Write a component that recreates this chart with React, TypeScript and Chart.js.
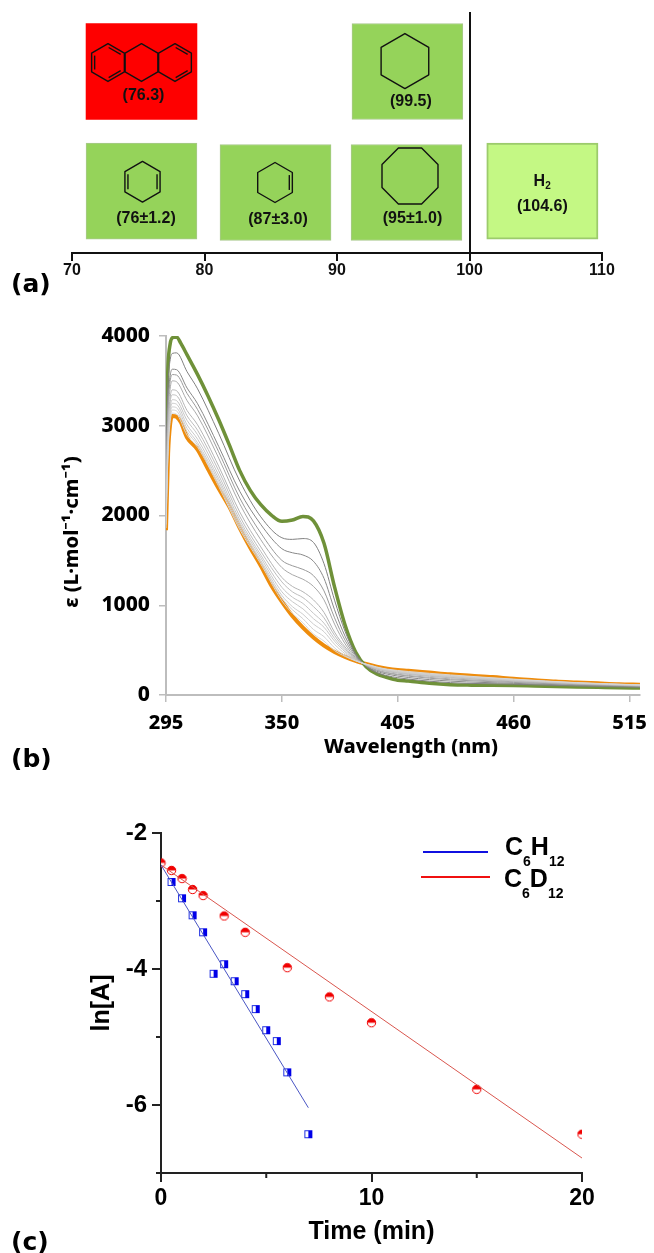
import React, { useEffect, useRef } from "react";
import { Chart, registerables } from "chart.js";

Chart.register(...registerables);

// ---------- Panel (a): bond dissociation energies ----------
const bdeTicks = [70, 80, 90, 100, 110];
const bdeBoxStart = [71.06, 91.13, 71.06, 81.17, 91.06, 101.3];
const bdeBoxEnd = [79.43, 99.5, 79.43, 89.55, 99.43, 109.7];
const bdeRow = [75.3, 75.3, 25.7, 25.1, 25.1, 25.7];
const bdeColors = ["#fe0000", "#95d35a", "#95d35a", "#95d35a", "#95d35a", "#c4f884"];
const bdeLabels = ["(76.3)", "(99.5)", "(76±1.2)", "(87±3.0)", "(95±1.0)", "(104.6)"];
const bdeMolecules = ["anthracene", "cyclohexane", "diene", "cyclohexene", "cyclooctane", "h2"];

// ---------- Panel (b): spectra ----------
const wlTicks = [295, 350, 405, 460, 515];
const wlValueTicks = [0, 1000, 2000, 3000, 4000];
const wlGreen = [295, 296, 297, 298, 300, 302, 305, 310, 315, 320, 325, 330, 335, 340, 345, 350, 355, 360, 365, 370, 375, 380, 385, 390, 395, 400, 405, 410, 420, 430, 440, 450, 460, 470, 480, 490, 500, 510, 520];
const greenValues = [2950, 3690, 3915, 3980, 3990, 3920, 3790, 3570, 3330, 3070, 2790, 2500, 2280, 2120, 2005, 1935, 1950, 1990, 1940, 1690, 1205, 780, 480, 315, 235, 195, 165, 155, 130, 115, 110, 108, 105, 100, 95, 90, 85, 80, 78];
const orangeValues = [1835, 2690, 3025, 3110, 3100, 3040, 2870, 2735, 2515, 2300, 2100, 1860, 1640, 1440, 1220, 1040, 880, 750, 640, 550, 480, 425, 380, 345, 315, 293, 278, 270, 250, 230, 215, 200, 180, 165, 150, 140, 130, 120, 115];

const wlGray = [295, 296, 297, 298, 300, 305, 310, 320, 330, 340, 350, 355, 360, 365, 370, 375, 380, 385, 390, 395, 400, 410, 430, 460, 490, 520];
const gray1 = [2727, 3490, 3737, 3806, 3812, 3602, 3411, 2916, 2384, 1985, 1752, 1734, 1743, 1700, 1463, 1057, 708, 460, 321, 251, 215, 178, 138, 120, 100, 87];
const gray2 = [2500, 3290, 3560, 3630, 3625, 3420, 3245, 2770, 2270, 1900, 1630, 1585, 1560, 1490, 1300, 950, 655, 445, 325, 265, 232, 195, 155, 130, 108, 92];
const gray3 = [2430, 3220, 3500, 3570, 3565, 3360, 3180, 2710, 2195, 1805, 1500, 1440, 1400, 1330, 1160, 860, 610, 430, 330, 275, 245, 210, 170, 140, 115, 97];
const gray4 = [2390, 3140, 3420, 3500, 3490, 3280, 3110, 2640, 2130, 1730, 1420, 1340, 1290, 1210, 1060, 790, 570, 415, 330, 280, 250, 218, 180, 148, 120, 100];
const gray5 = [2200, 3010, 3320, 3400, 3390, 3170, 3010, 2550, 2040, 1650, 1310, 1210, 1150, 1060, 920, 700, 535, 405, 335, 290, 262, 230, 192, 155, 125, 103];
const gray6 = [2130, 2960, 3270, 3345, 3335, 3110, 2950, 2500, 1990, 1600, 1260, 1150, 1085, 985, 860, 665, 515, 398, 336, 295, 268, 236, 197, 158, 127, 105];
const gray7 = [2060, 2890, 3200, 3290, 3280, 3060, 2900, 2450, 1950, 1560, 1200, 1090, 1020, 910, 800, 630, 495, 392, 338, 298, 272, 240, 203, 163, 130, 107];
const gray8 = [2010, 2840, 3160, 3250, 3240, 3010, 2850, 2410, 1920, 1530, 1150, 1040, 960, 850, 755, 600, 480, 388, 340, 302, 276, 246, 208, 166, 132, 109];
const gray9 = [1950, 2780, 3120, 3210, 3200, 2970, 2810, 2380, 1895, 1500, 1110, 985, 900, 790, 705, 565, 460, 385, 342, 306, 280, 250, 213, 170, 134, 110];
const gray10 = [1900, 2740, 3080, 3175, 3165, 2935, 2785, 2350, 1870, 1480, 1080, 950, 850, 730, 650, 525, 440, 382, 343, 310, 284, 254, 218, 174, 136, 112];
const gray11 = [1860, 2710, 3050, 3140, 3130, 2895, 2760, 2325, 1845, 1460, 1050, 910, 805, 680, 600, 495, 430, 380, 344, 312, 288, 262, 224, 177, 138, 113];
const grayCurves = [gray11, gray10, gray9, gray8, gray7, gray6, gray5, gray4, gray3, gray2, gray1];
const grayColors = ["#d6d6d6", "#d0d0d0", "#cccccc", "#c8c8c8", "#c4c4c4", "#bcbcbc", "#b4b4b4", "#a8a8a8", "#999999", "#888888", "#808080"];

// ---------- Panel (c): kinetics ----------
const timeTicks = [0, 5, 10, 15, 20];
const lnTicks = [-2, -3, -4, -5, -6, -7];
const hTimes = [0.5, 1, 1.5, 2, 2.5, 3, 3.5, 4, 4.5, 5, 5.5, 6, 7];
const hValues = [-2.72, -2.96, -3.21, -3.46, -4.07, -3.93, -4.18, -4.37, -4.59, -4.9, -5.06, -5.52, -6.43];
const dTimes = [0, 0.5, 1, 1.5, 2, 3, 4, 6, 8, 10, 15, 20];
const dValues = [-2.44, -2.55, -2.67, -2.83, -2.92, -3.22, -3.46, -3.98, -4.41, -4.79, -5.77, -6.43];
const hFitTimes = [0, 7];
const hFitValues = [-2.47, -6.04];
const dFitTimes = [0, 20];
const dFitValues = [-2.47, -6.78];

const SANS = '"Liberation Sans", Arial, sans-serif';
const NOTO = '"Noto Sans", sans-serif';
const DEJAVU = '"DejaVu Sans", sans-serif';

function panelLabel(ctx: CanvasRenderingContext2D, text: string, x: number, y: number) {
  ctx.save();
  ctx.font = `bold 25px ${DEJAVU}`;
  ctx.fillStyle = "#000";
  ctx.textAlign = "left";
  ctx.textBaseline = "middle";
  ctx.fillText(text, x, y);
  ctx.restore();
}

function ringVerts(cx: number, cy: number, r: number, n = 6, start = -Math.PI / 2) {
  const v: [number, number][] = [];
  for (let i = 0; i < n; i++) {
    const a = start + (i * 2 * Math.PI) / n;
    v.push([cx + r * Math.cos(a), cy + r * Math.sin(a)]);
  }
  return v;
}

function drawRing(
  ctx: CanvasRenderingContext2D,
  cx: number,
  cy: number,
  r: number,
  doubles: number[] = [],
  n = 6,
  start = -Math.PI / 2,
) {
  const v = ringVerts(cx, cy, r, n, start);
  ctx.beginPath();
  v.forEach(([x, y], i) => (i ? ctx.lineTo(x, y) : ctx.moveTo(x, y)));
  ctx.closePath();
  ctx.stroke();
  for (const e of doubles) {
    const [ax, ay] = v[e];
    const [bx, by] = v[(e + 1) % n];
    const k = (r - 3.5) / r;
    const s = 0.05;
    const a2 = [cx + (ax - cx) * k, cy + (ay - cy) * k];
    const b2 = [cx + (bx - cx) * k, cy + (by - cy) * k];
    ctx.beginPath();
    ctx.moveTo(a2[0] + (b2[0] - a2[0]) * s, a2[1] + (b2[1] - a2[1]) * s);
    ctx.lineTo(b2[0] - (b2[0] - a2[0]) * s, b2[1] - (b2[1] - a2[1]) * s);
    ctx.stroke();
  }
}

const moleculePlugin = {
  id: "molecules",
  afterDatasetsDraw(chart: any) {
    const { ctx } = chart;
    const bars = chart.getDatasetMeta(0).data;
    bars.forEach((bar: any, i: number) => {
      const cx = (bar.base + bar.x) / 2;
      const cy = bar.y;
      ctx.save();
      ctx.strokeStyle = "#111";
      ctx.lineWidth = 1.4;
      ctx.lineJoin = "round";
      const kind = bdeMolecules[i];
      let labelDx = 2;
      let labelDy = 24.5;
      if (kind === "anthracene") {
        drawRing(ctx, cx - 33.5, cy - 9, 18.9, [0, 2, 4]);
        drawRing(ctx, cx, cy - 9, 18.9);
        drawRing(ctx, cx + 33.5, cy - 9, 18.9, [0, 2]);
      } else if (kind === "cyclohexane") {
        drawRing(ctx, cx - 2.5, cy - 10.5, 27.5);
        labelDx = 3.5;
        labelDy = 30.5;
      } else if (kind === "diene") {
        drawRing(ctx, cx + 1, cy - 9.3, 20.3, [1, 4]);
        labelDx = 4.5;
        labelDy = 28;
      } else if (kind === "cyclohexene") {
        drawRing(ctx, cx - 0.5, cy - 10, 20, [1]);
        labelDx = 2.5;
        labelDy = 27.5;
      } else if (kind === "cyclooctane") {
        drawRing(ctx, cx + 3.5, cy - 16.5, 30.3, [], 8, -Math.PI * 0.375);
        labelDx = 6;
        labelDy = 26;
      }
      ctx.fillStyle = "#111";
      ctx.textAlign = "center";
      ctx.textBaseline = "middle";
      if (kind === "h2") {
        ctx.font = `bold 16px ${SANS}`;
        const w = ctx.measureText("H").width;
        ctx.fillText("H", cx - 3, cy - 9);
        ctx.font = `bold 10px ${SANS}`;
        ctx.fillText("2", cx - 3 + w / 2 + 3, cy - 5);
        ctx.font = `bold 16px ${SANS}`;
        ctx.fillText(bdeLabels[i], cx, cy + 16);
      } else {
        ctx.font = `bold 16px ${SANS}`;
        ctx.fillText(bdeLabels[i], cx + labelDx, cy + labelDy);
      }
      ctx.restore();
    });
    panelLabel(ctx, "(a)", 11, 285);
  },
};

const spectraPlugin = {
  id: "spectraText",
  afterDraw(chart: any) {
    const { ctx } = chart;
    panelLabel(ctx, "(b)", 11, 440);
    ctx.save();
    ctx.fillStyle = "#000";
    ctx.textAlign = "center";
    ctx.textBaseline = "middle";
    ctx.font = `800 20px ${NOTO}`;
    ctx.fillText("Wavelength (nm)", 411, 427);
    ctx.translate(72, 212);
    ctx.rotate(-Math.PI / 2);
    ctx.font = `800 20px ${NOTO}`;
    ctx.fillText("ε (L·mol⁻¹·cm⁻¹)", 0, 0);
    ctx.restore();
  },
};

function drawLegendEntry(
  ctx: CanvasRenderingContext2D,
  x0: number,
  x1: number,
  y: number,
  textX: number,
  textDy: number,
  parts: [string, string, string, string],
  color: string,
) {
  ctx.strokeStyle = color;
  ctx.lineWidth = 2;
  ctx.beginPath();
  ctx.moveTo(x0, y);
  ctx.lineTo(x1, y);
  ctx.stroke();
  let x = textX;
  parts.forEach((p, i) => {
    const sub = i % 2 === 1;
    ctx.font = sub ? `bold 14px ${SANS}` : `bold 25px ${SANS}`;
    ctx.fillText(p, x, sub ? y + textDy + 14 : y + textDy);
    x += ctx.measureText(p).width;
  });
}

const kineticsPlugin = {
  id: "kineticsExtras",
  afterDraw(chart: any) {
    const { ctx, scales } = chart;
    ctx.save();
    ctx.strokeStyle = "#222";
    ctx.lineWidth = 2;
    for (const t of timeTicks) {
      if (t % 10 !== 0) {
        const px = scales.x.getPixelForValue(t);
        ctx.beginPath();
        ctx.moveTo(px, scales.x.top);
        ctx.lineTo(px, scales.x.top + 5);
        ctx.stroke();
      }
    }
    for (const t of lnTicks) {
      if (t % 2 !== 0) {
        const py = scales.y.getPixelForValue(t);
        ctx.beginPath();
        ctx.moveTo(scales.y.right, py);
        ctx.lineTo(scales.y.right - 5, py);
        ctx.stroke();
      }
    }
    ctx.fillStyle = "#000";
    ctx.textAlign = "left";
    ctx.textBaseline = "middle";
    drawLegendEntry(ctx, 423, 488, 52, 505, -4, ["C", "6", "H", "12"], "#1010e0");
    drawLegendEntry(ctx, 421, 490, 77, 504, 3, ["C", "6", "D", "12"], "#f01010");
    ctx.restore();
    panelLabel(ctx, "(c)", 11, 443);
  },
};

function halfCircle() {
  const c = document.createElement("canvas");
  c.width = 11;
  c.height = 11;
  const g = c.getContext("2d")!;
  g.beginPath();
  g.arc(5.5, 5.5, 4.2, 0, Math.PI * 2);
  g.fillStyle = "#fff";
  g.fill();
  g.strokeStyle = "#f00000";
  g.lineWidth = 1;
  g.stroke();
  g.beginPath();
  g.arc(5.5, 5.5, 4.2, Math.PI, 0);
  g.closePath();
  g.fillStyle = "#f00000";
  g.fill();
  return c;
}

function halfSquare() {
  const c = document.createElement("canvas");
  c.width = 10;
  c.height = 10;
  const g = c.getContext("2d")!;
  g.fillStyle = "#fff";
  g.fillRect(1, 1, 8, 8);
  g.strokeStyle = "#2030e0";
  g.lineWidth = 1;
  g.strokeRect(1.5, 1.5, 7, 7);
  g.fillStyle = "#0000e8";
  g.fillRect(5, 1, 4, 8);
  return c;
}

const toPoints = (xs: number[], ys: number[]) => xs.map((x, i) => ({ x, y: ys[i] }));

export default function App() {
  const aRef = useRef<HTMLCanvasElement>(null);
  const bRef = useRef<HTMLCanvasElement>(null);
  const cRef = useRef<HTMLCanvasElement>(null);

  useEffect(() => {
    const charts: Chart[] = [];

    charts.push(
      new Chart(aRef.current!, {
        type: "bar",
        data: {
          datasets: [
            {
              data: bdeBoxStart.map((s, i) => ({ x: [s, bdeBoxEnd[i]], y: bdeRow[i] })) as any,
              backgroundColor: bdeColors,
              borderColor: ["#f00000", "#a9c98c", "#a9c98c", "#a9c98c", "#a9c98c", "#9ccb6c"],
              borderWidth: [0, 1, 1, 1, 1, 2] as any,
              borderSkipped: false,
              barThickness: 96,
            },
          ],
        },
        options: {
          indexAxis: "y",
          animation: false,
          responsive: false,
          layout: { padding: { left: 72, right: 52, top: 12, bottom: 0 } },
          plugins: { legend: { display: false }, tooltip: { enabled: false } },
          scales: {
            x: {
              type: "linear",
              min: 70,
              max: 110,
              afterBuildTicks: (s: any) => {
                s.ticks = bdeTicks.map((value) => ({ value }));
              },
              afterFit: (s: any) => {
                s.height = 47;
                s.paddingLeft = 0;
                s.paddingRight = 0;
              },
              border: { color: "#111", width: 2 },
              grid: {
                color: (c: any) => (c.tick && c.tick.value === 100 ? "#111" : "transparent"),
                lineWidth: 2,
                tickColor: "#111",
                tickLength: 8,
              },
              ticks: {
                color: "#111",
                padding: 0,
                maxRotation: 0,
                font: { family: SANS, size: 16, weight: "bold" },
              },
            },
            y: { type: "linear", display: false, min: 0, max: 100, offset: false },
          },
        },
        plugins: [moleculePlugin],
      } as any),
    );

    const grayDatasets = grayCurves.map((vals, i) => ({
      data: toPoints(wlGray, vals),
      borderColor: grayColors[i],
      borderWidth: 1,
      pointRadius: 0,
      cubicInterpolationMode: "monotone",
    }));

    charts.push(
      new Chart(bRef.current!, {
        type: "line",
        data: {
          datasets: [
            ...grayDatasets,
            {
              data: toPoints(wlGreen, greenValues),
              borderColor: "#6f9139",
              borderWidth: 3.5,
              pointRadius: 0,
              cubicInterpolationMode: "monotone",
            },
            {
              data: toPoints(wlGreen, orangeValues),
              borderColor: "#ee8c0c",
              borderWidth: 4,
              pointRadius: 0,
              cubicInterpolationMode: "monotone",
            },
          ],
        },
        options: {
          animation: false,
          responsive: false,
          layout: { padding: { left: 0, right: 14, top: 16, bottom: 0 } },
          plugins: { legend: { display: false }, tooltip: { enabled: false } },
          scales: {
            x: {
              type: "linear",
              min: 295,
              max: 520,
              afterBuildTicks: (s: any) => {
                s.ticks = wlTicks.map((value) => ({ value }));
              },
              afterFit: (s: any) => {
                s.height = 75;
                s.paddingLeft = 0;
                s.paddingRight = 0;
              },
              border: { color: "#bdbdbd", width: 2 },
              grid: { display: true, drawOnChartArea: false, tickColor: "#bdbdbd", tickLength: 7, lineWidth: 1.5 },
              ticks: {
                color: "#000",
                padding: 9,
                maxRotation: 0,
                font: { family: NOTO, size: 20, weight: "800" },
              },
            },
            y: {
              type: "linear",
              min: 0,
              max: 4000,
              afterBuildTicks: (s: any) => {
                s.ticks = wlValueTicks.map((value) => ({ value }));
              },
              afterFit: (s: any) => {
                s.width = 166;
                s.paddingTop = 0;
                s.paddingBottom = 0;
              },
              border: { color: "#bdbdbd", width: 2 },
              grid: { display: true, drawOnChartArea: false, tickColor: "#bdbdbd", tickLength: 7, lineWidth: 1.5 },
              ticks: {
                color: "#000",
                padding: 9,
                font: { family: NOTO, size: 21, weight: "800" },
                callback: (v: number) => String(v),
              },
            },
          },
        },
        plugins: [spectraPlugin],
      } as any),
    );

    charts.push(
      new Chart(cRef.current!, {
        type: "scatter",
        data: {
          datasets: [
            {
              label: "C6H12 fit",
              data: toPoints(hFitTimes, hFitValues),
              showLine: true,
              borderColor: "#4a56c4",
              borderWidth: 1,
              pointRadius: 0,
            },
            {
              label: "C6D12 fit",
              data: toPoints(dFitTimes, dFitValues),
              showLine: true,
              borderColor: "#d9564e",
              borderWidth: 1,
              pointRadius: 0,
            },
            {
              label: "C6H12",
              data: toPoints(hTimes, hValues),
              pointStyle: halfSquare(),
              pointRadius: 5,
              clip: 0,
            },
            {
              label: "C6D12",
              data: toPoints(dTimes, dValues),
              pointStyle: halfCircle(),
              pointRadius: 5,
              clip: 0,
            },
          ],
        },
        options: {
          animation: false,
          responsive: false,
          layout: { padding: { left: 0, right: 72, top: 33, bottom: 0 } },
          plugins: { legend: { display: false }, tooltip: { enabled: false } },
          scales: {
            x: {
              type: "linear",
              min: 0,
              max: 20,
              afterBuildTicks: (s: any) => {
                s.ticks = timeTicks.map((value) => ({ value }));
              },
              afterFit: (s: any) => {
                s.height = 80;
                s.paddingLeft = 0;
                s.paddingRight = 0;
              },
              border: { color: "#222", width: 2 },
              grid: {
                drawOnChartArea: false,
                lineWidth: 2,
                tickLength: 9,
                tickColor: (c: any) => (c.tick && c.tick.value % 10 === 0 ? "#222" : "transparent"),
              },
              ticks: {
                color: "#000",
                padding: 3,
                maxRotation: 0,
                font: { family: SANS, size: 23, weight: "bold" },
                callback: (v: number) => (v % 10 === 0 ? String(v) : ""),
              },
              title: {
                display: true,
                text: "Time (min)",
                color: "#000",
                padding: { top: 0, bottom: 6 },
                font: { family: SANS, size: 25, weight: "bold" },
              },
            },
            y: {
              type: "linear",
              min: -7,
              max: -2,
              afterBuildTicks: (s: any) => {
                s.ticks = lnTicks.map((value) => ({ value }));
              },
              afterFit: (s: any) => {
                s.width = 161;
                s.paddingTop = 0;
                s.paddingBottom = 0;
              },
              border: { color: "#222", width: 2 },
              grid: {
                drawOnChartArea: false,
                lineWidth: 2,
                tickLength: 9,
                tickColor: (c: any) => (c.tick && c.tick.value % 2 === 0 ? "#222" : "transparent"),
              },
              ticks: {
                color: "#000",
                padding: 5,
                font: { family: SANS, size: 24, weight: "bold" },
                callback: (v: number) => (v % 2 === 0 ? String(v) : ""),
              },
              title: {
                display: true,
                text: "ln[A]",
                color: "#000",
                padding: { top: 87, bottom: 0 },
                font: { family: SANS, size: 25, weight: "bold" },
              },
            },
          },
        },
        plugins: [kineticsPlugin],
      } as any),
    );

    return () => charts.forEach((c) => c.destroy());
  }, []);

  const abs = (top: number, height: number): React.CSSProperties => ({
    position: "absolute",
    left: 0,
    top,
    width: 654,
    height,
  });

  return (
    <div style={{ position: "absolute", left: 0, top: 0, width: 654, height: 1253, overflow: "hidden", background: "#fff" }}>
      <canvas ref={aRef} width={654} height={300} style={abs(0, 300)} />
      <canvas ref={bRef} width={654} height={450} style={abs(320, 450)} />
      <canvas ref={cRef} width={654} height={453} style={abs(800, 453)} />
    </div>
  );
}
